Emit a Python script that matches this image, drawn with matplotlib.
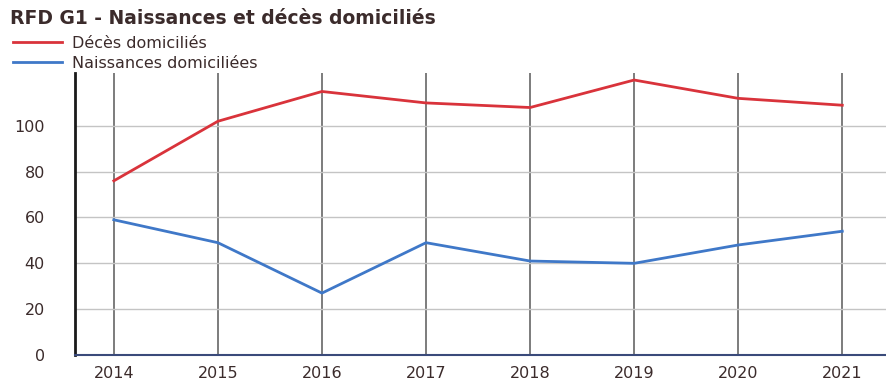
import matplotlib.pyplot as plt
import numpy as np

# ===================== DATA =====================
annees = [2014, 2015, 2016, 2017, 2018, 2019, 2020, 2021]
deces = [76, 102, 115, 110, 108, 120, 112, 109]
naissances = [59, 49, 27, 49, 41, 40, 48, 54]
y_ticks = [0, 20, 40, 60, 80, 100]

titre = "RFD G1 - Naissances et décès domiciliés"
label_deces = "Décès domiciliés"
label_naiss = "Naissances domiciliées"

rouge = "#d9333b"
bleu = "#3f78c8"
texte = "#3b2b2b"

plt.rcParams["font.family"] = ["DejaVu Sans"]

# ===================== PLOT =====================
fig = plt.figure(figsize=(8.86, 3.85), dpi=100)
ax = fig.add_axes([0.085, 0.078, 0.915, 0.732])

ax.plot(annees, deces, color=rouge, lw=2, label=label_deces)
ax.plot(annees, naissances, color=bleu, lw=2, label=label_naiss)

ax.set_xlim(2013.63, 2021.42)
ax.set_ylim(0, 123)
ax.set_xticks(annees)
ax.set_yticks(y_ticks)
ax.tick_params(axis="both", labelsize=11.5, colors=texte, length=0)
ax.tick_params(axis="x", pad=8)
ax.tick_params(axis="y", pad=22)

# grilles
ax.grid(axis="y", color="#c4c4c4", lw=1)
ax.grid(axis="x", color="#666666", lw=1.2)
ax.set_axisbelow(True)

for s in ["top", "right"]:
    ax.spines[s].set_visible(False)
ax.spines["left"].set_color("#1a1a1a")
ax.spines["left"].set_linewidth(2)
ax.spines["bottom"].set_color("#3a4a7a")
ax.spines["bottom"].set_linewidth(1.5)

# titre et légende
fig.text(0.011, 0.953, titre, fontsize=13.5, fontweight="bold", color=texte,
         va="center", ha="left")
fig.legend(loc="upper left", bbox_to_anchor=(0.0, 0.94), frameon=False,
           fontsize=11.5, handlelength=3.1, handletextpad=0.6,
           labelspacing=0.32, borderpad=0.3, labelcolor=texte)

plt.savefig("out.png", dpi=100)
plt.close()
